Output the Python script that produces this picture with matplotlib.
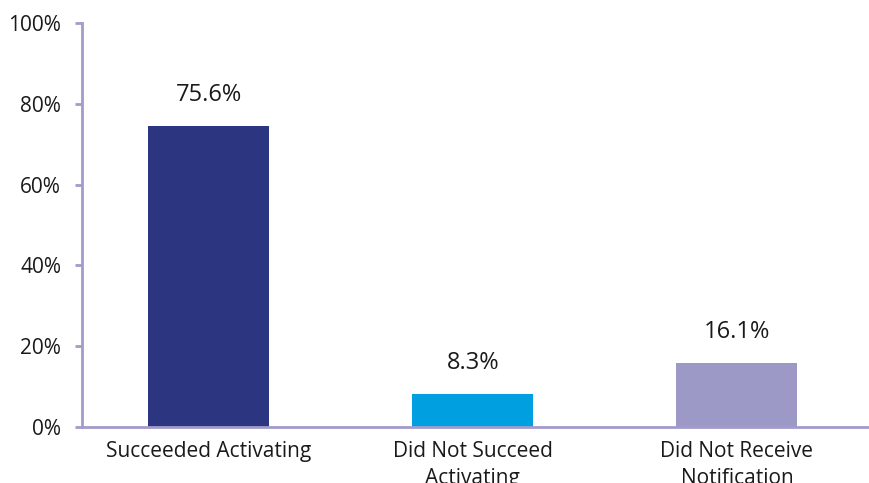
import matplotlib.pyplot as plt
from matplotlib.ticker import FuncFormatter

categories = ["Succeeded Activating", "Did Not Succeed\nActivating", "Did Not Receive\nNotification"]
bar_heights = [74.5, 8.2, 15.8]
value_labels = ["75.6%", "8.3%", "16.1%"]
colors = ["#2B3580", "#00A0E0", "#9D99C6"]
yticks = [0, 20, 40, 60, 80, 100]

plt.rcParams['font.family'] = ['Open Sans', 'DejaVu Sans']
fig = plt.figure(figsize=(8.69, 4.83), dpi=100)
ax = fig.add_axes([82/869, 1-427/483, 1-82/869, 404/483])

x = list(range(len(categories)))
ax.bar(x, bar_heights, width=0.458, color=colors, zorder=2)
for xi, h, lab in zip(x, bar_heights, value_labels):
    ax.annotate(lab, (xi, h), xytext=(0, 31), textcoords='offset pixels',
                ha='center', va='center', fontsize=17, color='#1a1a1a')

ax.set_xlim(-0.48, 2.5)
ax.set_ylim(0, 100)
ax.set_yticks(yticks)
ax.yaxis.set_major_formatter(FuncFormatter(lambda v, p: f"{int(v)}%"))
ax.set_xticks(x)
ax.set_xticklabels(categories, fontsize=15, color='#1a1a1a', linespacing=1.4)
ax.tick_params(axis='x', length=0, pad=10)
ax.tick_params(axis='y', length=5, width=2, color='#A19CCB', pad=10, labelsize=15, labelcolor='#1a1a1a')

for s in ['top', 'right']:
    ax.spines[s].set_visible(False)
for s in ['left', 'bottom']:
    ax.spines[s].set_color('#A19CCB')
    ax.spines[s].set_linewidth(2)
    ax.spines[s].set_zorder(3)

fig.savefig("out.png", dpi=100)
